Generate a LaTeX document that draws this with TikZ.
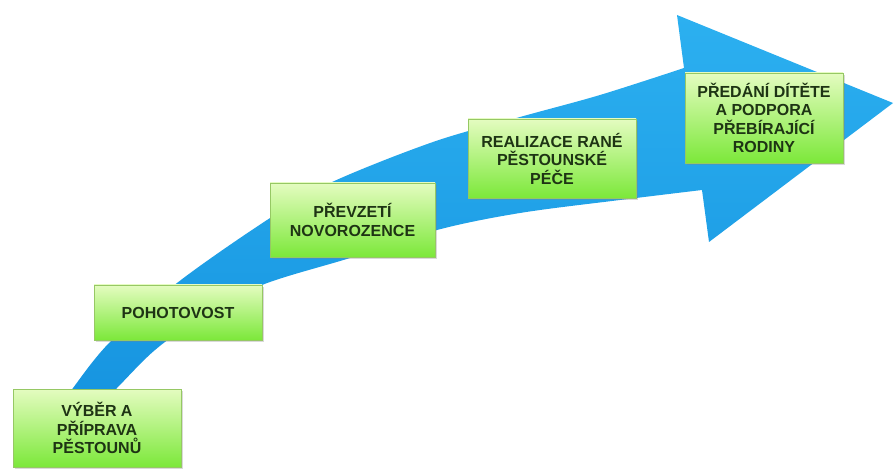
\documentclass[tikz,border=0pt]{standalone}
\usepackage{fontspec}
\setmainfont{Liberation Sans}
\usetikzlibrary{shadows}
\definecolor{arrowtop}{RGB}{44,176,240}
\definecolor{arrowbot}{RGB}{22,148,224}
\definecolor{boxtop}{RGB}{228,252,192}
\definecolor{boxbot}{RGB}{124,232,58}
\definecolor{boxline}{RGB}{150,200,100}
\definecolor{boxtext}{RGB}{30,52,20}
\tikzset{
  stage/.style={rectangle, draw=boxline, line width=0.6pt,
    top color=boxtop, bottom color=boxbot, inner sep=0pt, align=center,
    font=\fontsize{16}{18.5}\selectfont\bfseries, text=boxtext,
    drop shadow={shadow xshift=1.5pt, shadow yshift=-2pt, opacity=0.3}},
  bigarrow/.style={top color=arrowtop, bottom color=arrowbot, draw=none}
}
\begin{document}
\begin{tikzpicture}[x=1pt,y=1pt]
\useasboundingbox (0,0) rectangle (894,469);
% curved arrow
\path[bigarrow]
  plot[smooth, tension=0.55] coordinates {(62,64) (73,81) (110,127) (177,186) (267,249) (330,286) (433,327) (520,352) (600,374) (684,401)}
  -- (677,454) -- (893,366) -- (709,227)
  -- plot[smooth, tension=0.55] coordinates {(702,279) (620,269) (520,256) (437,239) (350,211) (262,184) (200,151) (155,119) (117,81) (100,64)}
  -- cycle;
% stages
\node[stage, minimum width=168pt, minimum height=78pt] (s1) at (97,41) {VÝBĚR A\\PŘÍPRAVA\\PĚSTOUNŮ};
\node[stage, minimum width=168pt, minimum height=55pt] (s2) at (178,156.5) {POHOTOVOST};
\node[stage, minimum width=165pt, minimum height=74pt] (s3) at (352.5,249) {PŘEVZETÍ\\NOVOROZENCE};
\node[stage, minimum width=168pt, minimum height=79pt] (s4) at (552,310.5) {REALIZACE RANÉ\\PĚSTOUNSKÉ\\PÉČE};
\node[stage, minimum width=158pt, minimum height=90pt] (s5) at (764,351) {PŘEDÁNÍ DÍTĚTE\\A PODPORA\\PŘEBÍRAJÍCÍ\\RODINY};
\end{tikzpicture}
\end{document}
